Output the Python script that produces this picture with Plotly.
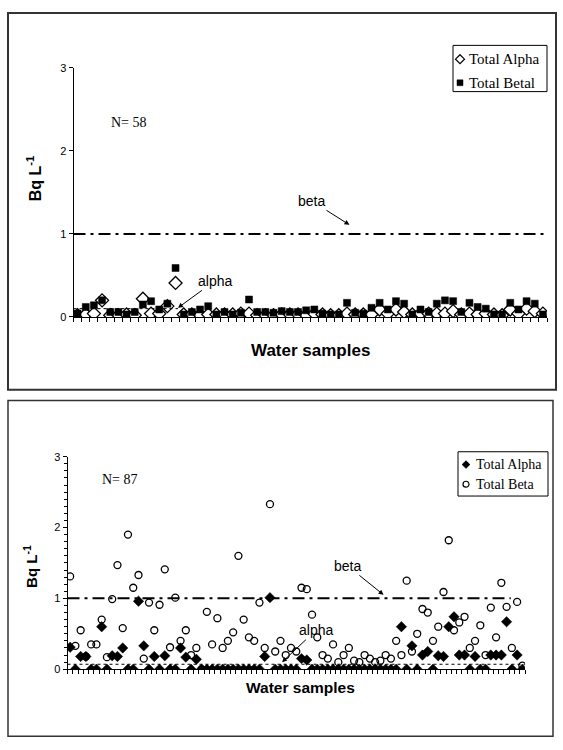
import plotly.graph_objects as go

W, H = 563, 750

# ---------------- data: top panel (N = 58) ----------------
top_alpha = [0.02, 0.03, 0.04, 0.20, 0.02, 0.02, 0.03, 0.02, 0.22, 0.04,
             0.04, 0.13, 0.41, 0.03, 0.03, 0.02, 0.03, 0.03, 0.03, 0.03,
             0.04, 0.04, 0.02, 0.02, 0.02, 0.03, 0.03, 0.03, 0.02, 0.04,
             0.03, 0.02, 0.02, 0.04, 0.03, 0.03, 0.03, 0.09, 0.04, 0.09,
             0.06, 0.03, 0.04, 0.04, 0.04, 0.04, 0.07, 0.03, 0.04, 0.03,
             0.04, 0.03, 0.02, 0.09, 0.04, 0.10, 0.07, 0.04]
top_beta = [0.04, 0.12, 0.14, 0.20, 0.06, 0.06, 0.03, 0.06, 0.15, 0.19,
            0.09, 0.16, 0.59, 0.03, 0.06, 0.09, 0.13, 0.03, 0.06, 0.03,
            0.05, 0.21, 0.06, 0.06, 0.05, 0.07, 0.06, 0.06, 0.08, 0.09,
            0.04, 0.03, 0.03, 0.17, 0.05, 0.04, 0.11, 0.17, 0.09, 0.19,
            0.16, 0.03, 0.09, 0.06, 0.16, 0.20, 0.19, 0.06, 0.17, 0.12,
            0.10, 0.03, 0.03, 0.17, 0.09, 0.19, 0.16, 0.03]

# ---------------- data: bottom panel (N = 87) ----------------
bot_alpha = [0.31, 0.00, 0.18, 0.18, 0.00, 0.00, 0.60, 0.00, 0.19, 0.18,
             0.30, 0.00, 0.00, 0.96, 0.33, 0.00, 0.18, 0.00, 0.19, 0.00,
             0.00, 0.30, 0.17, 0.00, 0.14, 0.00, 0.00, 0.00, 0.00, 0.00,
             0.00, 0.00, 0.00, 0.00, 0.00, 0.00, 0.00, 0.18, 1.01, 0.00,
             0.00, 0.00, 0.00, 0.00, 0.15, 0.13, 0.00, 0.00, 0.00, 0.00,
             0.00, 0.00, 0.00, 0.00, 0.00, 0.00, 0.00, 0.00, 0.00, 0.00,
             0.00, 0.00, 0.00, 0.60, 0.00, 0.33, 0.00, 0.20, 0.25, 0.00,
             0.19, 0.18, 0.60, 0.74, 0.20, 0.20, 0.00, 0.18, 0.00, 0.00,
             0.20, 0.20, 0.20, 0.67, 0.00, 0.20, 0.00]
bot_beta = [1.31, 0.33, 0.55, 0.18, 0.35, 0.35, 0.70, 0.17, 0.99, 1.47,
            0.58, 1.90, 1.15, 1.33, 0.15, 0.94, 0.55, 0.91, 1.41, 0.31,
            1.01, 0.40, 0.55, 0.20, 0.30, 0.00, 0.81, 0.35, 0.72, 0.30,
            0.40, 0.52, 1.60, 0.70, 0.45, 0.40, 0.94, 0.30, 2.33, 0.25,
            0.40, 0.20, 0.30, 0.25, 1.15, 1.13, 0.77, 0.45, 0.20, 0.15,
            0.35, 0.10, 0.20, 0.30, 0.12, 0.10, 0.20, 0.15, 0.10, 0.12,
            0.20, 0.15, 0.40, 0.20, 1.25, 0.25, 0.50, 0.85, 0.80, 0.40,
            0.60, 1.09, 1.82, 0.55, 0.66, 0.74, 0.30, 0.40, 0.62, 0.20,
            0.87, 0.45, 1.22, 0.88, 0.30, 0.95, 0.05]

beta_limit = 1.0
alpha_limit = 0.1

n_top = len(top_alpha)
n_bot = len(bot_alpha)
x_top = list(range(1, n_top + 1))
x_bot = list(range(1, n_bot + 1))


def px(x):
    return x / W


def py(y):
    return 1 - y / H


fig = go.Figure()

fig.add_trace(go.Scatter(x=x_top, y=top_alpha, mode="markers", name="Total Alpha",
                         marker=dict(symbol="diamond", size=10, color="white",
                                     line=dict(color="black", width=1.3)),
                         xaxis="x", yaxis="y", showlegend=False))
fig.add_trace(go.Scatter(x=x_top, y=top_beta, mode="markers", name="Total Betal",
                         marker=dict(symbol="square", size=7, color="black",
                                     line=dict(color="black", width=0.5)),
                         xaxis="x", yaxis="y", showlegend=False))
fig.add_trace(go.Scatter(x=x_bot, y=bot_alpha, mode="markers", name="Total Alpha",
                         marker=dict(symbol="diamond", size=8, color="black",
                                     line=dict(color="black", width=0.5)),
                         xaxis="x2", yaxis="y2", showlegend=False))
fig.add_trace(go.Scatter(x=x_bot, y=bot_beta, mode="markers", name="Total Beta",
                         marker=dict(symbol="circle-open", size=7, color="black",
                                     line=dict(color="black", width=1.3)),
                         xaxis="x2", yaxis="y2", showlegend=False))

axis_common = dict(showgrid=False, zeroline=False, showline=True, linecolor="black",
                   linewidth=1, ticks="outside", tickcolor="black", tickwidth=1,
                   mirror=False)

fig.update_layout(
    width=W, height=H, margin=dict(l=0, r=0, t=0, b=0),
    paper_bgcolor="white", plot_bgcolor="white",
    font=dict(family="Liberation Sans, Arial", color="black"),
    xaxis=dict(domain=[px(73.5), px(547)], range=[0.5, n_top + 0.5], anchor="y",
               tickmode="linear", tick0=0.5, dtick=1, ticklen=4,
               showticklabels=False, **axis_common),
    yaxis=dict(domain=[py(316), py(63)], range=[0, 3], anchor="x",
               tickmode="linear", tick0=0, dtick=1, ticklen=4,
               tickfont=dict(size=11), **axis_common),
    xaxis2=dict(domain=[px(67.5), px(525)], range=[0.5, n_bot + 0.5], anchor="y2",
                tickmode="linear", tick0=0.5, dtick=1, ticklen=4,
                showticklabels=False, **axis_common),
    yaxis2=dict(domain=[py(674), py(458)], range=[0, 3], anchor="x2",
                tickmode="linear", tick0=0, dtick=1, ticklen=4,
                tickfont=dict(size=11),
                minor=dict(dtick=0.1, ticks="outside", ticklen=3, tickcolor="black"),
                **axis_common),
)

shapes = []
shapes.append(dict(type="rect", xref="paper", yref="paper", x0=px(8), x1=px(556),
                   y0=py(390), y1=py(7), line=dict(color="#333333", width=2)))
shapes.append(dict(type="rect", xref="paper", yref="paper", x0=px(8), x1=px(553),
                   y0=py(742), y1=py(401), line=dict(color="#333333", width=1.5)))
shapes.append(dict(type="line", xref="x", yref="y", x0=0.5, x1=n_top + 0.2,
                   y0=beta_limit, y1=beta_limit,
                   line=dict(color="black", width=2, dash="12px,5px,3px,5px")))
shapes.append(dict(type="line", xref="x", yref="y", x0=0.5, x1=13.3,
                   y0=alpha_limit, y1=alpha_limit,
                   line=dict(color="black", width=1, dash="dot")))
shapes.append(dict(type="line", xref="x2", yref="y2", x0=0.5, x1=84.8,
                   y0=beta_limit, y1=beta_limit,
                   line=dict(color="black", width=2, dash="12px,5px,3px,5px")))
shapes.append(dict(type="line", xref="x2", yref="y2", x0=0.5, x1=n_bot + 0.5,
                   y0=alpha_limit * 0.7, y1=alpha_limit * 0.7,
                   line=dict(color="black", width=1, dash="dot")))


def legend_box(x0, y0, x1, y1):
    shapes.append(dict(type="rect", xref="paper", yref="paper", x0=px(x0), x1=px(x1),
                       y0=py(y1), y1=py(y0), line=dict(color="black", width=1),
                       fillcolor="white"))


legend_box(453, 40, 547, 87)
legend_box(458, 453, 548, 498)

cx, cy, r = 460, 54, 4.5
shapes.append(dict(type="path", xref="paper", yref="paper",
                   path=f"M {px(cx)},{py(cy - r)} L {px(cx + r)},{py(cy)} L {px(cx)},{py(cy + r)} L {px(cx - r)},{py(cy)} Z",
                   line=dict(color="black", width=1.2), fillcolor="white"))
shapes.append(dict(type="rect", xref="paper", yref="paper", x0=px(457), x1=px(463),
                   y0=py(81), y1=py(75), line=dict(color="black", width=0.5),
                   fillcolor="black"))
cx, cy, r = 466, 466, 3.8
shapes.append(dict(type="path", xref="paper", yref="paper",
                   path=f"M {px(cx)},{py(cy - r)} L {px(cx + r)},{py(cy)} L {px(cx)},{py(cy + r)} L {px(cx - r)},{py(cy)} Z",
                   line=dict(color="black", width=1), fillcolor="black"))
shapes.append(dict(type="circle", xref="paper", yref="paper", x0=px(463), x1=px(469),
                   y0=py(489), y1=py(483), line=dict(color="black", width=1.2)))

fig.update_layout(shapes=shapes)

serif = "Liberation Serif, Times New Roman"


def label(text, x, y, size, family=None, xanchor="center", angle=0):
    f = dict(size=size)
    if family:
        f["family"] = family
    return dict(text=text, x=px(x), y=py(y), xref="paper", yref="paper",
                xanchor=xanchor, yanchor="middle", showarrow=False,
                textangle=angle, font=f)


ann = []
ann.append(label("Total Alpha", 467, 54, 15, serif, "left"))
ann.append(label("Total Betal", 467, 78, 15, serif, "left"))
ann.append(label("Total Alpha", 474, 466, 14, serif, "left"))
ann.append(label("Total Beta", 474, 486, 14, serif, "left"))
ann.append(label("N= 58", 109, 118, 14, serif, "left"))
ann.append(label("N= 87", 100, 481, 14, serif, "left"))
ann.append(label("<b>Bq L<sup>-1</sup></b>", 34, 175, 16, angle=-90))
ann.append(label("<b>Bq L<sup>-1</sup></b>", 31, 570, 15, angle=-90))
ann.append(label("<b>Water samples</b>", 310, 350, 17))
ann.append(label("<b>Water samples</b>", 300, 693, 15.5))

ann.append(dict(text="beta", x=34.3, y=1.11, xref="x", yref="y",
                ax=-38, ay=-24, showarrow=True,
                arrowhead=2, arrowsize=1, arrowwidth=1, arrowcolor="black",
                font=dict(size=14)))
ann.append(dict(text="alpha", x=13.3, y=0.11, xref="x", yref="y",
                ax=37, ay=-27, showarrow=True,
                arrowhead=2, arrowsize=1, arrowwidth=1, arrowcolor="black",
                font=dict(size=14)))
ann.append(dict(text="beta", x=60.6, y=1.05, xref="x2", yref="y2",
                ax=-36, ay=-29, showarrow=True,
                arrowhead=2, arrowsize=1, arrowwidth=1, arrowcolor="black",
                font=dict(size=14)))
ann.append(dict(text="alpha", x=41.3, y=0.1, xref="x2", yref="y2",
                ax=34, ay=-32, showarrow=True,
                arrowhead=2, arrowsize=1, arrowwidth=1, arrowcolor="black",
                font=dict(size=14)))

fig.update_layout(annotations=ann)

fig.write_html("out.html", config={"displayModeBar": False},
               post_script="document.body.style.margin='0';document.body.style.overflow='hidden';")
